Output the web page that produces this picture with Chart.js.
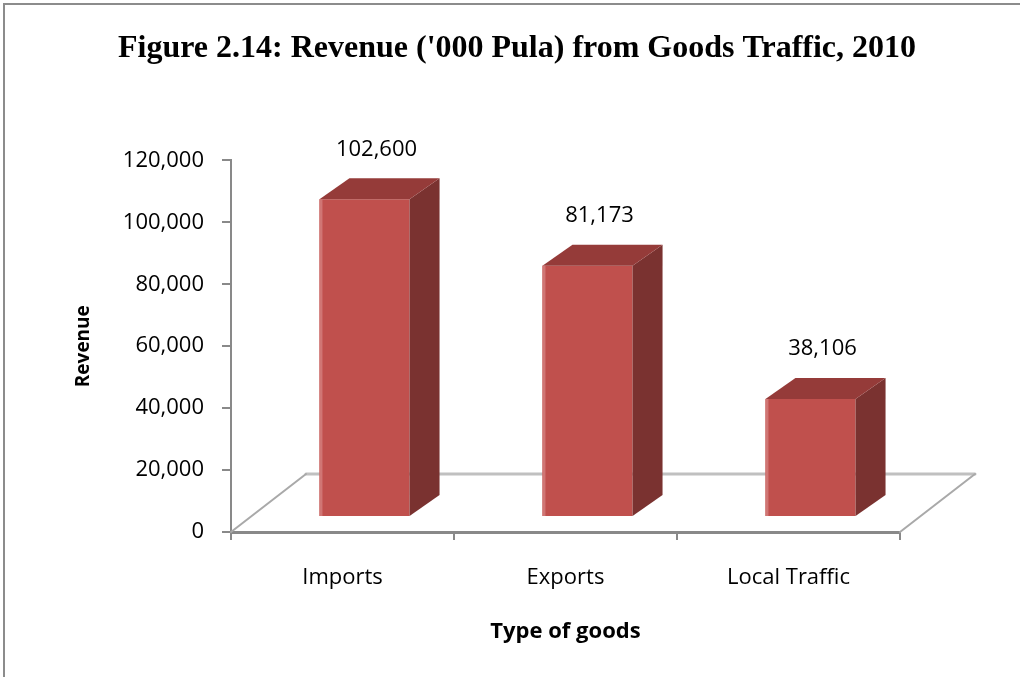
<!DOCTYPE html>
<html>
<head>
<meta charset="utf-8">
<script src="https://cdn.jsdelivr.net/npm/chart.js@4"></script>
<style>
  html, body { margin: 0; padding: 0; background: #fff; }
  #wrap { width: 1020px; height: 677px; }
</style>
</head>
<body>
<div id="wrap"><canvas id="myChart" width="1020" height="677"></canvas></div>
<script>
  const categories = ["Imports", "Exports", "Local Traffic"];
  const revenue = [102600, 81173, 38106];
  const yMax = 120000;
  const yStep = 20000;

  // 3d look (pixels)
  const shiftX = 22, shiftY = -15;     // bar front face sits inside the floor
  const depthX = 30, depthY = -21;     // bar depth
  const floorX = 75, floorY = -58;     // floor depth

  const ctx = document.getElementById("myChart");

  const frame = {
    id: "frame",
    beforeDraw(chart) {
      const c = chart.ctx;
      c.save();
      c.fillStyle = "#fff";
      c.fillRect(0, 0, chart.width, chart.height);
      c.strokeStyle = "#8c8c8c";
      c.lineWidth = 2;
      c.beginPath();
      c.moveTo(4, chart.height);
      c.lineTo(4, 4);
      c.lineTo(chart.width, 4);
      c.stroke();
      c.restore();
    },
  };

  const box3d = {
    id: "box3d",
    beforeDatasetsDraw(chart) {
      const c = chart.ctx;
      const { left, right, bottom } = chart.chartArea;
      c.save();
      c.lineCap = "round";
      c.strokeStyle = "#c0c0c0";
      c.lineWidth = 3;
      c.beginPath();
      c.moveTo(left + floorX, bottom + floorY);
      c.lineTo(right + floorX, bottom + floorY);
      c.stroke();
      c.strokeStyle = "#a9a9a9";
      c.lineWidth = 2;
      c.beginPath();
      c.moveTo(left, bottom);
      c.lineTo(left + floorX, bottom + floorY);
      c.moveTo(right, bottom);
      c.lineTo(right + floorX, bottom + floorY);
      c.stroke();
      c.restore();

      c.save();
      c.translate(shiftX, shiftY);
    },
    afterDatasetsDraw(chart) {
      const c = chart.ctx;
      const meta = chart.getDatasetMeta(0);
      meta.data.forEach((bar, i) => {
        const { x, y, base, width } = bar.getProps(["x", "y", "base", "width"], true);
        const l = x - width / 2, r = x + width / 2;
        // side
        c.fillStyle = "#7a3230";
        c.beginPath();
        c.moveTo(r, y);
        c.lineTo(r + depthX, y + depthY);
        c.lineTo(r + depthX, base + depthY);
        c.lineTo(r, base);
        c.closePath();
        c.fill();
        // top
        c.fillStyle = "#953b39";
        c.beginPath();
        c.moveTo(l, y);
        c.lineTo(l + depthX, y + depthY);
        c.lineTo(r + depthX, y + depthY);
        c.lineTo(r, y);
        c.closePath();
        c.fill();
        // light left edge
        c.fillStyle = "#d07674";
        c.fillRect(l, y, 3, base - y);
        // value label
        c.fillStyle = "#000";
        c.font = "22px 'Open Sans'";
        c.textAlign = "center";
        c.textBaseline = "middle";
        c.fillText(revenue[i].toLocaleString("en-US"), x + 12, y + depthY - 29);
      });
      c.restore();
    },
  };

  new Chart(ctx, {
    type: "bar",
    data: {
      labels: categories,
      datasets: [
        {
          label: "Revenue",
          data: revenue,
          backgroundColor: "#c0504d",
          borderWidth: 0,
          categoryPercentage: 1,
          barPercentage: 0.404,
          clip: false,
        },
      ],
    },
    options: {
      responsive: false,
      animation: false,
      layout: { padding: { left: 68, right: 54, top: 0, bottom: 0 } },
      plugins: {
        legend: { display: false },
        tooltip: { enabled: false },
        title: {
          display: true,
          text: "Figure 2.14: Revenue ('000 Pula) from Goods Traffic, 2010",
          color: "#000",
          font: { family: "'Liberation Serif'", size: 32, weight: "bold" },
          padding: { top: 30, bottom: 92 },
        },
      },
      scales: {
        x: {
          grid: {
            offset: true,
            drawOnChartArea: false,
            drawTicks: true,
            tickLength: 8,
            color: "#898989",
            lineWidth: 2,
          },
          border: { display: true, color: "#898989", width: 3 },
          ticks: {
            color: "#000",
            font: { family: "'Open Sans'", size: 22 },
            padding: 25,
          },
          title: {
            display: true,
            text: "Type of goods",
            color: "#000",
            font: { family: "'Open Sans'", size: 22, weight: "bold" },
            padding: { top: 4, bottom: 32 },
          },
          afterFit(scale) {
            scale.height = 145;
          },
        },
        y: {
          min: 0,
          max: yMax,
          grid: {
            drawOnChartArea: false,
            drawTicks: true,
            tickLength: 9,
            color: "#898989",
            lineWidth: 2,
          },
          border: { display: true, color: "#898989", width: 2 },
          ticks: {
            stepSize: yStep,
            color: "#000",
            font: { family: "'Open Sans'", size: 22 },
            padding: 18,
            callback: (v) => v.toLocaleString("en-US"),
          },
          title: {
            display: true,
            text: "Revenue",
            color: "#000",
            font: { family: "'Open Sans'", size: 19, weight: "bold" },
          },
          afterFit(scale) {
            scale.width = 163;
          },
        },
        // empty room on the right for the floor depth
        yRoom: {
          position: "right",
          display: true,
          grid: { display: false },
          border: { display: false },
          ticks: { display: false },
          afterFit(scale) {
            scale.width = 66;
          },
        },
      },
    },
    plugins: [frame, box3d],
  });
</script>
</body>
</html>
